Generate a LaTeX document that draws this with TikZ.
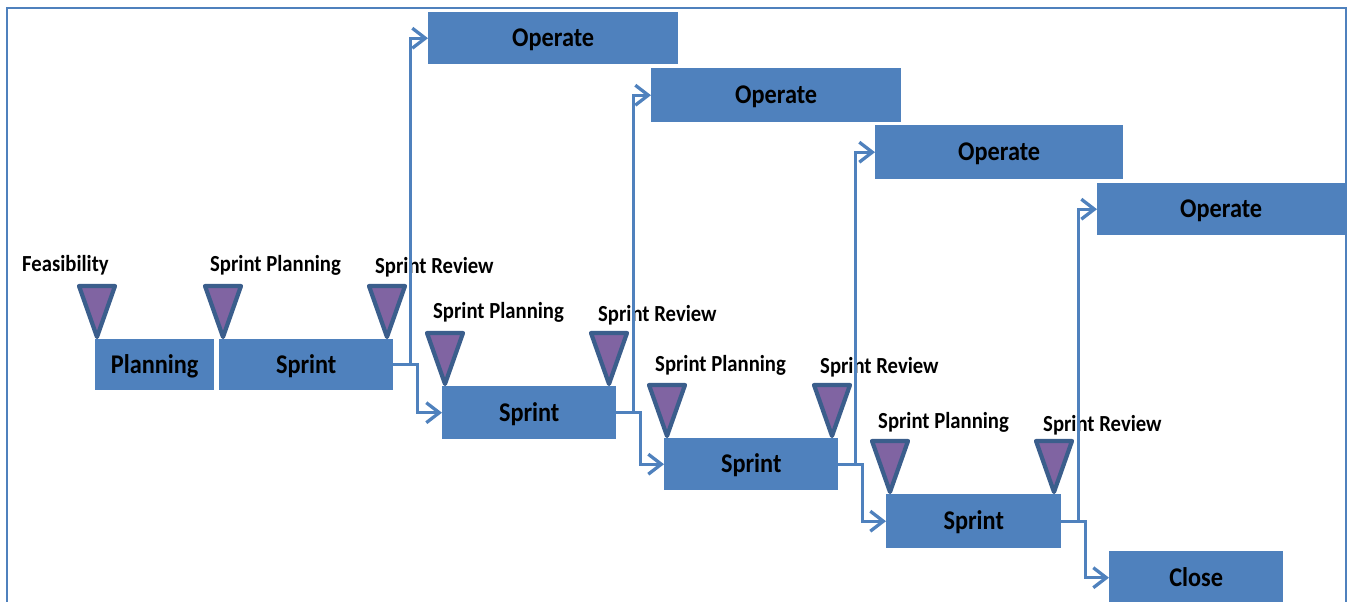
\documentclass[tikz,border=0pt]{standalone}
\usepackage{fontspec}
\usepackage{graphicx}
\setmainfont{Carlito}
\usetikzlibrary{arrows.meta}
\definecolor{boxblue}{HTML}{4F81BD}
\definecolor{tripurple}{HTML}{8064A2}
\definecolor{triedge}{HTML}{3B5E8C}
\newcommand{\hsq}[1]{\scalebox{0.9}[1]{#1}}
\begin{document}
\begin{tikzpicture}[x=1pt,y=-1pt,
  boxstyle/.style={fill=boxblue, draw=none, anchor=north west, inner sep=0pt,
    text height=17pt, text depth=0pt, font=\fontsize{27}{30}\selectfont\bfseries},
  lbl/.style={anchor=base west, inner sep=0pt, font=\fontsize{23}{27}\selectfont\bfseries},
  conn/.style={draw=boxblue, line width=3.3pt},
  arr/.style={conn, -{Straight Barb[length=13pt,width=20pt]}},
  framestyle/.style={draw=boxblue, line width=2.6pt},
  tristyle/.style={fill=tripurple, draw=triedge, line width=4.2pt, line join=round},
  marker/.pic={\path[tristyle] (-18,-51) -- (18,-51) -- (0,0) -- cycle;}]
\useasboundingbox (0,0) rectangle (1349,602);
\draw[framestyle] (7,604) -- (7,8) -- (1346,8) -- (1346,604);

% labels
\node[lbl] (lf) at (22,271) {\hsq{Feasibility}};
\node[lbl] (lp1) at (210,271) {\hsq{Sprint Planning}};
\node[lbl] (lr1) at (375,273) {\hsq{Sprint Review}};
\node[lbl] (lp2) at (433,318) {\hsq{Sprint Planning}};
\node[lbl] (lr2) at (598,321) {\hsq{Sprint Review}};
\node[lbl] (lp3) at (655,371) {\hsq{Sprint Planning}};
\node[lbl] (lr3) at (820,373) {\hsq{Sprint Review}};
\node[lbl] (lp4) at (878,428) {\hsq{Sprint Planning}};
\node[lbl] (lr4) at (1043,431) {\hsq{Sprint Review}};

% boxes
\node[boxstyle, minimum width=119pt, minimum height=51pt] (plan) at (95,339) {\hsq{Planning}};
\node[boxstyle, minimum width=174pt, minimum height=51pt] (s1) at (219,339) {\hsq{Sprint}};
\node[boxstyle, minimum width=174pt, minimum height=53pt] (s2) at (442,386) {\hsq{Sprint}};
\node[boxstyle, minimum width=174pt, minimum height=52pt] (s3) at (664,438) {\hsq{Sprint}};
\node[boxstyle, minimum width=175pt, minimum height=54pt] (s4) at (886,494) {\hsq{Sprint}};
\node[boxstyle, minimum width=174pt, minimum height=53pt] (close) at (1109,551) {\hsq{Close}};
\node[boxstyle, minimum width=250pt, minimum height=52pt] (o1) at (428,12) {\hsq{Operate}};
\node[boxstyle, minimum width=250pt, minimum height=54pt] (o2) at (651,68) {\hsq{Operate}};
\node[boxstyle, minimum width=248pt, minimum height=54pt] (o3) at (875,125) {\hsq{Operate}};
\node[boxstyle, minimum width=248pt, minimum height=52pt] (o4) at (1097,183) {\hsq{Operate}};

% connectors
\draw[arr] (s1.east) -- ++(17,0) |- (o1.west);
\draw[arr] (s1.east) -- ++(24,0) |- (s2.west);
\draw[arr] (s2.east) -- ++(17,0) |- (o2.west);
\draw[arr] (s2.east) -- ++(24,0) |- (s3.west);
\draw[arr] (s3.east) -- ++(17,0) |- (o3.west);
\draw[arr] (s3.east) -- ++(24,0) |- (s4.west);
\draw[arr] (s4.east) -- ++(17,0) |- (o4.west);
\draw[arr] (s4.east) -- ++(24,0) |- (close.west);

% milestone markers
\pic at (97,337) {marker};
\pic at (223,337) {marker};
\pic at (387,337) {marker};
\pic at (445,384) {marker};
\pic at (609,384) {marker};
\pic at (667,436) {marker};
\pic at (832,436) {marker};
\pic at (890,492) {marker};
\pic at (1054,492) {marker};
\end{tikzpicture}
\end{document}
